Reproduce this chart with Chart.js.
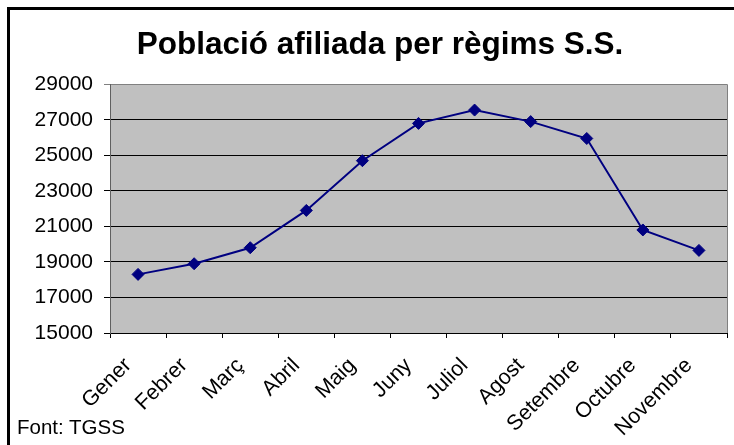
<!DOCTYPE html>
<html>
<head>
<meta charset="utf-8">
<script src="https://cdn.jsdelivr.net/npm/chart.js@4"></script>
<style>
    html, body { margin: 0; padding: 0; background: #fff; overflow: hidden; }
    #wrap { position: relative; width: 734px; height: 445px; }
    #frame {
        position: absolute; left: 7px; top: 7px; width: 800px; height: 500px;
        border-left: 3px solid #000; border-top: 3px solid #000; pointer-events: none;
    }
    #source {
        position: absolute; left: 17px; top: 415px;
        font: 20.5px "Liberation Sans", Arial, sans-serif; color: #000;
    }
</style>
</head>
<body>
<div id="wrap">
    <canvas id="chart" width="734" height="445"></canvas>
    <div id="frame"></div>
    <div id="source">Font: TGSS</div>
</div>
<script>
// ---------------------------------------------------------------------------
// Data
// ---------------------------------------------------------------------------
const months = ["Gener", "Febrer", "Març", "Abril", "Maig", "Juny", "Juliol", "Agost", "Setembre", "Octubre", "Novembre"];
const afiliats = [18300, 18900, 19800, 21900, 24700, 26800, 27550, 26900, 25950, 20800, 19650];
const yTicks = [15000, 17000, 19000, 21000, 23000, 25000, 27000, 29000];

const FONT = "'Liberation Sans', Arial, sans-serif";

// plot area: grey fill behind the grid, grey edge on the right
const plotArea = {
    id: "plotArea",
    beforeDraw(chart) {
        const { ctx, chartArea: a } = chart;
        ctx.save();
        ctx.fillStyle = "#c0c0c0";
        ctx.fillRect(a.left, a.top, a.right - a.left, a.bottom - a.top);
        ctx.restore();
    },
    beforeDatasetsDraw(chart) {
        const { ctx, chartArea: a } = chart;
        ctx.save();
        ctx.strokeStyle = "#808080";
        ctx.lineWidth = 1;
        ctx.beginPath();
        ctx.moveTo(a.right + 0.5, a.top);
        ctx.lineTo(a.right + 0.5, a.bottom);
        ctx.stroke();
        ctx.restore();
    },
};

new Chart(document.getElementById("chart"), {
    type: "line",
    data: {
        labels: months,
        datasets: [{
            data: afiliats,
            borderColor: "#000080",
            backgroundColor: "#000080",
            borderWidth: 2,
            pointStyle: "rectRot",
            pointRadius: 6,
            pointBorderWidth: 1,
            tension: 0,
        }],
    },
    options: {
        responsive: false,
        animation: false,
        layout: { padding: { left: 32.5, right: 6.5, top: 0, bottom: 0 } },
        plugins: {
            legend: { display: false },
            tooltip: { enabled: false },
            title: {
                display: true,
                text: "Població afiliada per règims S.S.",
                color: "#000",
                font: { family: FONT, size: 31.5, weight: "bold" },
                padding: { top: 26.5, bottom: 20 },
            },
        },
        scales: {
            x: {
                offset: true,
                grid: { offset: true, drawOnChartArea: false, tickLength: 5, color: "#000" },
                border: { color: "#000" },
                ticks: {
                    color: "#000",
                    font: { family: FONT, size: 21.5 },
                    minRotation: 45,
                    maxRotation: 45,
                    padding: 15,
                    labelOffset: -10,
                    autoSkip: false,
                },
                afterFit: s => { s.height = 112; },
            },
            y: {
                min: 15000,
                max: 29000,
                afterBuildTicks: s => { s.ticks = yTicks.map(v => ({ value: v })); },
                grid: {
                    tickLength: 6,
                    color: c => (c.tick && c.tick.value === 29000 ? "#808080" : "#000"),
                },
                border: { color: "#606060" },
                ticks: {
                    color: "#000",
                    font: { family: FONT, size: 21 },
                    padding: 11,
                    callback: v => String(v),
                },
                afterFit: s => { s.width = 77.5; },
            },
        },
    },
    plugins: [plotArea],
});
</script>
</body>
</html>
